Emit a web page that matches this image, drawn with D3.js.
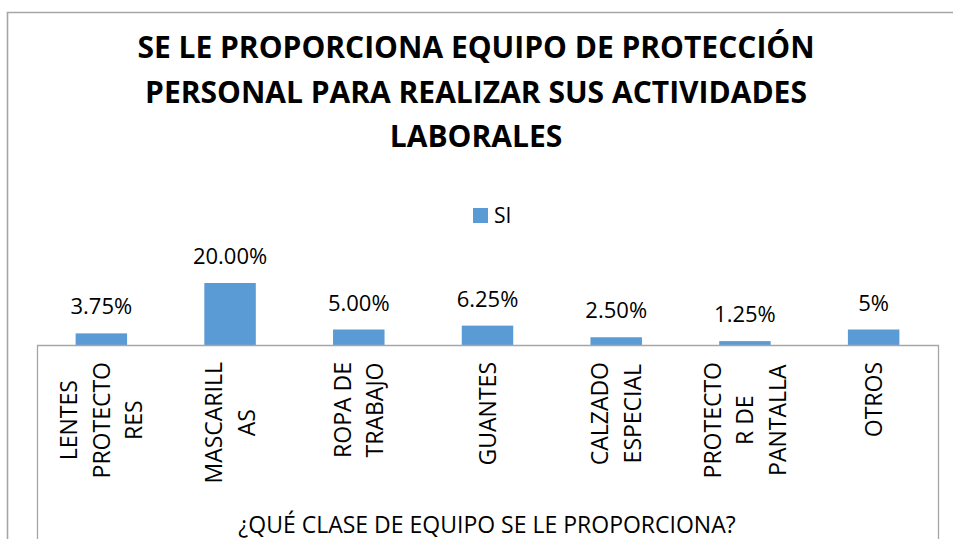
<!DOCTYPE html>
<html>
<head>
<meta charset="utf-8">
<script src="https://cdn.jsdelivr.net/npm/d3@7/dist/d3.min.js"></script>
<style>
  html, body { margin: 0; padding: 0; background: #ffffff; }
  svg { display: block; }
  text { font-family: "Open Sans", "Noto Sans", sans-serif; fill: #000; }
</style>
</head>
<body>
<svg id="chart" width="953" height="546"></svg>
<script>
// Chart content
const titleLines = ["SE LE PROPORCIONA EQUIPO DE PROTECCIÓN", "PERSONAL PARA REALIZAR SUS ACTIVIDADES", "LABORALES"];
const seriesName = "SI";
const categories = ["LENTES PROTECTORES", "MASCARILLAS", "ROPA DE TRABAJO", "GUANTES", "CALZADO ESPECIAL", "PROTECTOR DE PANTALLA", "OTROS"];
const categoryLines = [
  ["LENTES", "PROTECTO", "RES"],
  ["MASCARILL", "AS"],
  ["ROPA DE", "TRABAJO"],
  ["GUANTES"],
  ["CALZADO", "ESPECIAL"],
  ["PROTECTO", "R DE", "PANTALLA"],
  ["OTROS"]
];
const values = [3.75, 20.00, 5.00, 6.25, 2.50, 1.25, 5];
const valueLabels = ["3.75%", "20.00%", "5.00%", "6.25%", "2.50%", "1.25%", "5%"];
const axisTitle = "¿QUÉ CLASE DE EQUIPO SE LE PROPORCIONA?";

const svg = d3.select("#chart");
const frameColor = "#a6a6a6";
const barColor = "#5b9bd5";

// Outer chart frame (top and left edges)
svg.append("path")
  .attr("d", "M7.5,539 V12.5 H953")
  .attr("fill", "none")
  .attr("stroke", frameColor)
  .attr("stroke-width", 1.6);

// Title
const title = svg.append("text")
  .attr("text-anchor", "middle")
  .style("font-weight", "700")
  .style("font-size", "30px");
titleLines.forEach((t, i) => {
  title.append("tspan").attr("x", 476).attr("y", 58 + i * 44.5).text(t);
});

// Scales
const plotLeft = 37, plotRight = 938, baseY = 345, boxBottom = 539;
const x = d3.scaleBand()
  .domain(categories)
  .range([plotLeft, plotRight])
  .paddingInner(0.6)
  .paddingOuter(0.3);
const y = d3.scaleLinear().domain([0, 25]).range([baseY, baseY - 77.5]);

// Legend
const legend = svg.append("g").attr("transform", "translate(473,208)");
legend.append("rect").attr("width", 15).attr("height", 15).attr("fill", barColor);
legend.append("text").attr("x", 21).attr("y", 15).style("font-size", "21px").text(seriesName);

// Bars
svg.append("g").selectAll("rect")
  .data(values)
  .join("rect")
  .attr("x", (d, i) => x(categories[i]))
  .attr("width", x.bandwidth())
  .attr("y", d => y(d))
  .attr("height", d => y(0) - y(d))
  .attr("fill", barColor);

// Value labels
svg.append("g").selectAll("text")
  .data(values)
  .join("text")
  .attr("x", (d, i) => x(categories[i]) + x.bandwidth() / 2)
  .attr("y", d => y(d) - 19)
  .attr("text-anchor", "middle")
  .style("font-size", "22px")
  .text((d, i) => valueLabels[i]);

// Category axis box
svg.append("path")
  .attr("d", `M${plotLeft + 0.5},${boxBottom} V${baseY + 0.5} H${plotRight + 0.5} V${boxBottom}`)
  .attr("fill", "none")
  .attr("stroke", frameColor)
  .attr("stroke-width", 1.3);

// Rotated category labels, lines stacked left to right
const catFont = 23, capH = catFont * 0.714, lineGap = 32.5, labelTop = 362;
categories.forEach((c, i) => {
  const cx = x(c) + x.bandwidth() / 2;
  const lines = categoryLines[i];
  const g = svg.append("g");
  const texts = lines.map((ln, j) => g.append("text")
    .style("font-size", catFont + "px")
    .attr("text-anchor", "middle")
    .text(ln));
  const maxLen = d3.max(texts, t => t.node().getComputedTextLength());
  const cy = labelTop + maxLen / 2;
  texts.forEach((t, j) => {
    const bx = cx + (j - (lines.length - 1) / 2) * lineGap + capH / 2;
    t.attr("transform", `translate(${bx},${cy}) rotate(-90)`);
  });
});

// Axis title
svg.append("text")
  .attr("x", 487)
  .attr("y", 533)
  .attr("text-anchor", "middle")
  .style("font-size", "23px")
  .text(axisTitle);
</script>
</body>
</html>
